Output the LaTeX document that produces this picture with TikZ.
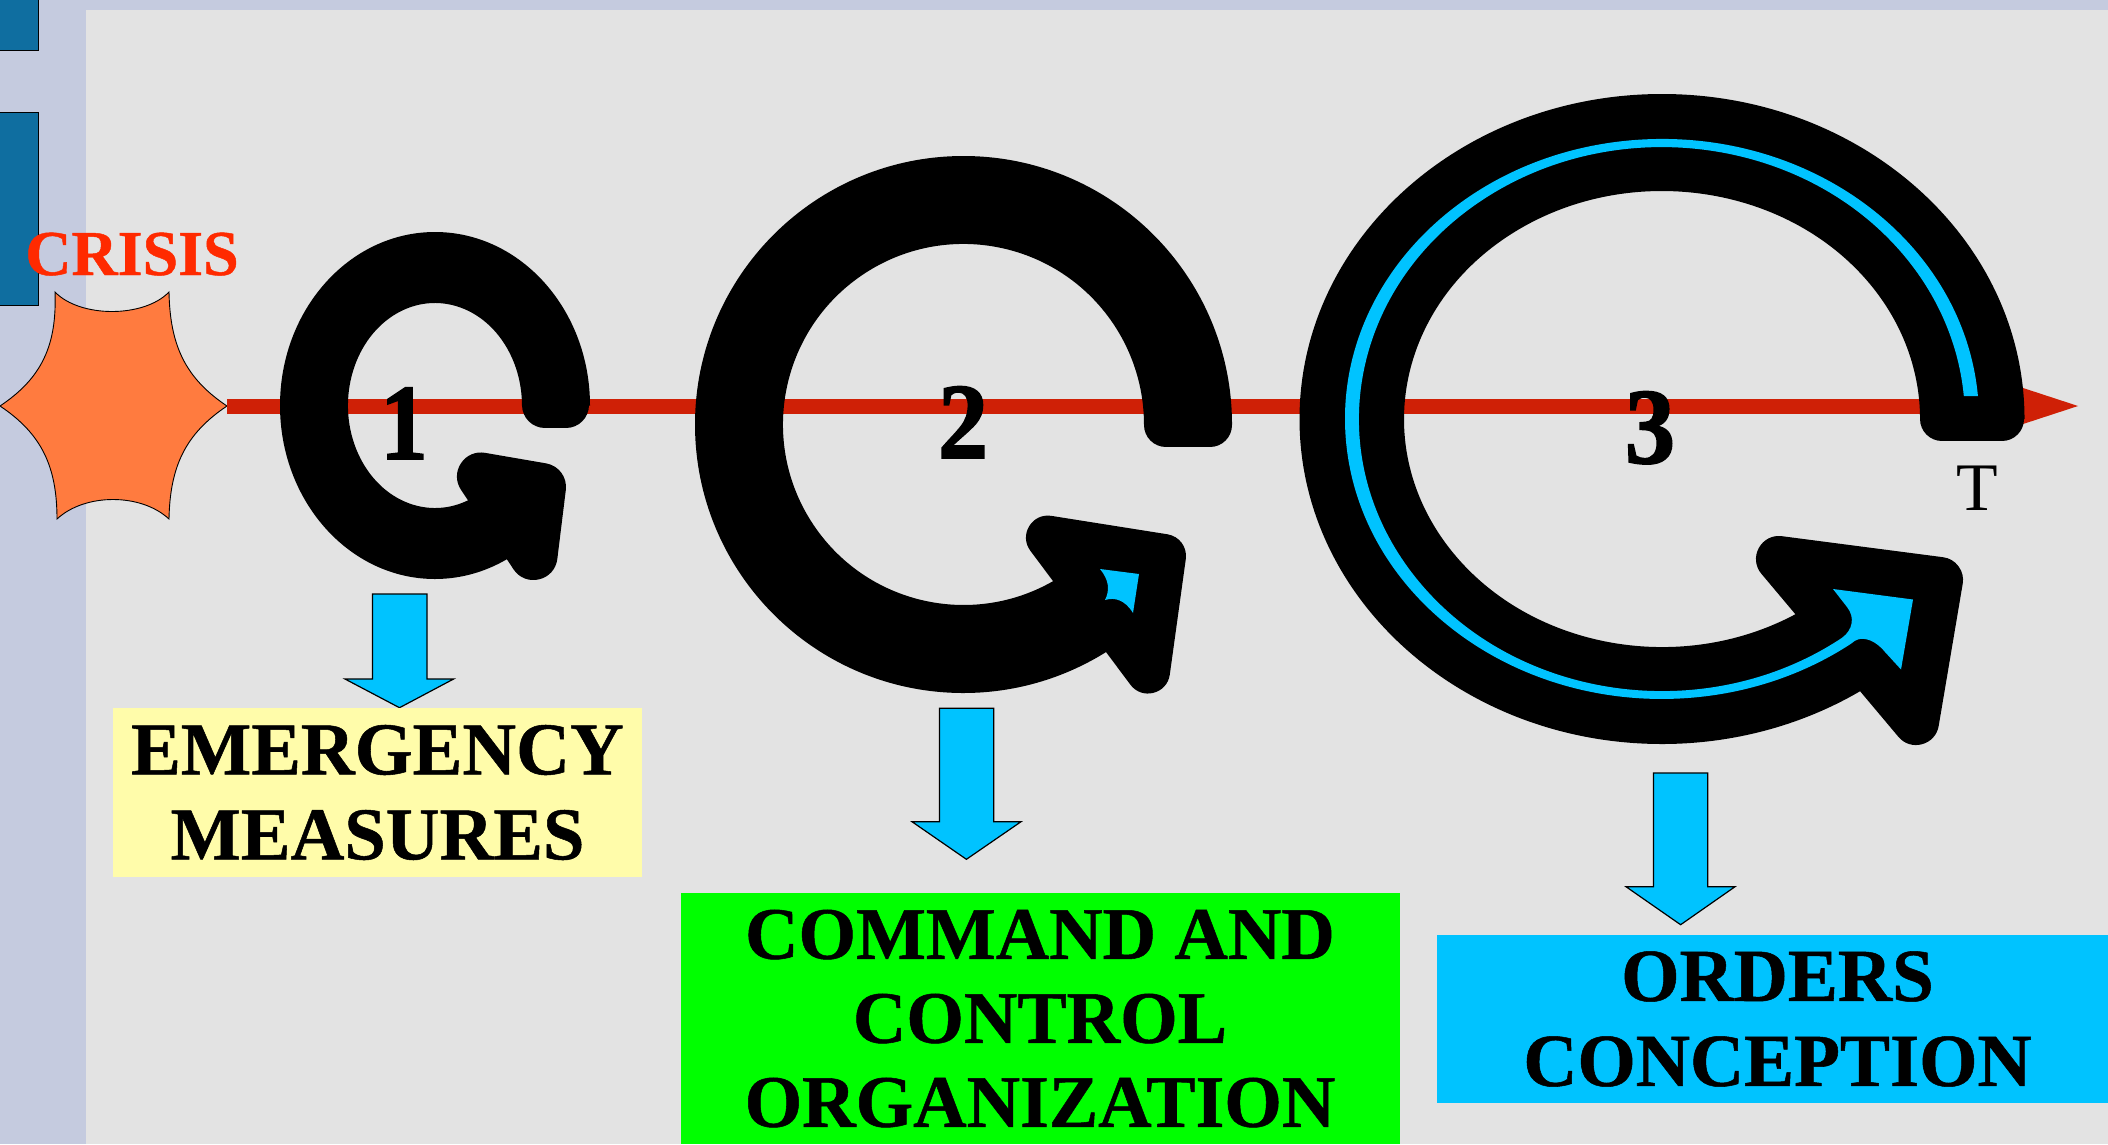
\documentclass[tikz,border=0pt]{standalone}
\usepackage{fontspec}
\usepackage{graphicx}
\setmainfont{Liberation Serif}
\newfontfamily\heavydigits[BoldFeatures={FakeBold=1.6}]{Liberation Serif}
\newfontfamily\heavytext[BoldFeatures={FakeBold=0.7}]{Liberation Serif}
\definecolor{pagegray}{HTML}{E3E3E3}
\definecolor{sidelav}{HTML}{C5CBDF}
\definecolor{sideblue}{HTML}{0F6EA0}
\definecolor{starorange}{HTML}{FF7B3F}
\definecolor{crisisred}{HTML}{FF2A00}
\definecolor{linered}{HTML}{CF2006}
\definecolor{skyblue}{HTML}{00C3FF}
\definecolor{boxyellow}{HTML}{FFFCAA}
\definecolor{boxgreen}{HTML}{00FF00}
\tikzset{
  thinedge/.style={draw=black,line width=0.9pt},
  headshape/.style={fill=black,draw=black,line join=round,line cap=round},
  downarrow/.style={fill=skyblue,draw=black,line width=1.2pt,line join=miter},
  numlabel/.style={font=\fontsize{108}{108}\heavydigits\bfseries,text=black,inner sep=0pt,anchor=base},
  labelbox/.style={inner sep=0pt,align=center,anchor=center,text=black}
}
\begin{document}
\begin{tikzpicture}[x=1pt,y=1pt]
\useasboundingbox (0,-1144) rectangle (2108,0);
% page
\fill[sidelav] (0,-1144) rectangle (2108,0);
\fill[pagegray] (86,-1144) rectangle (2108,-10);
\fill[sideblue,thinedge] (-2,-50) rectangle (38,2);
\fill[sideblue,thinedge] (-2,-305) rectangle (38,-112);
% star
\fill[starorange,thinedge] (55,-292)
  .. controls (80,-318) and (144,-318) .. (169,-292)
  .. controls (170,-345) and (185,-378) .. (227,-406)
  .. controls (185,-434) and (170,-467) .. (169,-519)
  .. controls (141,-493) and (85,-493) .. (57,-519)
  .. controls (57,-467) and (42,-434) .. (0,-406)
  .. controls (42,-378) and (57,-345) .. (55,-292) -- cycle;
\node[inner sep=0pt,anchor=base,text=crisisred,font=\fontsize{64}{64}\heavytext\bfseries] (crisis) at (132,-275) {CRISIS};
% timeline
\coordinate (starE) at (227,-406);
\coordinate (lineEnd) at (2030,-406);
\draw[linered,line width=15pt] (starE) -- (lineEnd);
\fill[linered] (2020,-387) -- (2078,-406) -- (2020,-425) -- cycle;
% arrow 1
\fill[black] (590,-405.5) arc[start angle=0,end angle=302,x radius=155,y radius=173.5]
  -- (475.8,-496) arc[start angle=298,end angle=0,x radius=87,y radius=102.5] -- cycle;
\draw[black,line width=46pt,line cap=round] (545,-405) -- (566,-405);
\path[headshape,line width=48pt] (481,-476.5) -- (542,-487) -- (533.5,-556) -- cycle;
% arrow 2
\fill[black] (1232,-424.5) arc[start angle=0,end angle=306,x radius=268.5,y radius=268.5]
  -- (1064.4,-574.1) arc[start angle=304,end angle=0,x radius=180.5,y radius=180.5] -- cycle;
\draw[black,line width=44pt,line cap=round] (1166,-425) -- (1210,-425);
\path[headshape,line width=44pt] (1048,-537.6) -- (1164,-556) -- (1148,-671.5) -- cycle;
\fill[skyblue] (1100,-569) .. controls (1109,-580) and (1110,-590) .. (1105,-600)
  .. controls (1115,-597) and (1125,-600) .. (1133,-613) -- (1139,-574) -- cycle;
% arrow 3
\fill[black] (2024.5,-419) arc[start angle=0,end angle=307,x radius=362.5,y radius=325]
  -- (1810,-605.8) arc[start angle=305,end angle=0,x radius=258,y radius=228] -- cycle;
\draw[black,line width=44pt,line cap=round] (1942,-419) -- (2002,-419);
\path[headshape,line width=46pt] (1779,-559) -- (1940,-580) -- (1916,-722) -- cycle;
\fill[skyblue] (1977.9,-396)
  arc[start angle=4.7,end angle=306.7,x radius=317,y radius=280]
  .. controls (1855,-640) and (1860,-638) .. (1864.5,-639)
  .. controls (1873,-640) and (1880,-646) .. (1885,-652)
  -- (1901,-669.5) -- (1913,-599.5) -- (1833,-589) -- (1847,-607)
  .. controls (1855,-617) and (1853,-630) .. (1841.7,-638)
  arc[start angle=306.4,end angle=4.85,x radius=303,y radius=272] -- cycle;
% numbers and T
\node[numlabel] (one) at (404,-459) {\scalebox{.88}[1]{1}};
\node[numlabel] (two) at (963,-458) {\scalebox{.93}[1]{2}};
\node[numlabel] (three) at (1650,-463) {\scalebox{.93}[1]{3}};
\node[inner sep=0pt,anchor=base,font=\fontsize{68}{68}\selectfont] (tlabel) at (1977,-510) {T};
% down arrows
\draw[downarrow] (372.5,-594) -- (427,-594) -- (427,-679) -- (453.6,-679) -- (399.5,-707.7) -- (345,-679) -- (372.5,-679) -- cycle;
\draw[downarrow] (939.5,-708.3) -- (993.7,-708.3) -- (993.7,-821.7) -- (1021,-821.7) -- (966.4,-859.3) -- (912,-821.7) -- (939.5,-821.7) -- cycle;
\draw[downarrow] (1653.4,-773) -- (1707.8,-773) -- (1707.8,-886.7) -- (1735,-886.7) -- (1680.6,-924.7) -- (1626,-886.7) -- (1653.4,-886.7) -- cycle;
% label boxes
\node[labelbox,fill=boxyellow,minimum width=529pt,minimum height=169pt,font=\fontsize{74.5}{85}\heavytext\bfseries] (emerg) at (377.5,-792.5) {\raisebox{-3pt}{\parbox{529pt}{\centering EMERGENCY\\MEASURES}}};
\node[labelbox,fill=boxgreen,minimum width=719pt,minimum height=251pt,font=\fontsize{74}{84}\heavytext\bfseries] (command) at (1040,-1018.6) {\raisebox{-3.5pt}{\parbox{719pt}{\centering COMMAND AND\\CONTROL\\ORGANIZATION}}};
\node[labelbox,fill=skyblue,minimum width=681.6pt,minimum height=168pt,font=\fontsize{75}{85}\heavytext\bfseries] (orders) at (1777.5,-1019) {\raisebox{-2pt}{\parbox{681pt}{\centering ORDERS\\CONCEPTION}}};
\end{tikzpicture}
\end{document}
